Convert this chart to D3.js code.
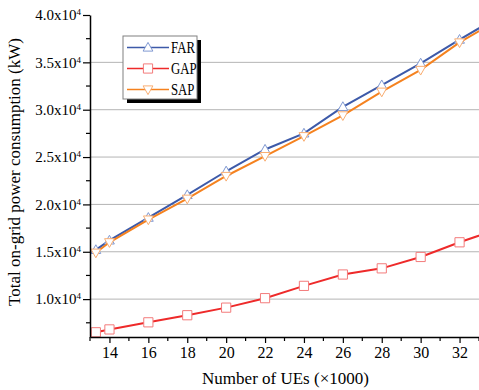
<!DOCTYPE html>
<html>
<head>
<meta charset="utf-8">
<script src="https://cdn.jsdelivr.net/npm/d3@7"></script>
<style>
  body { margin: 0; background: #fff; }
  svg { display: block; font-family: "Liberation Serif", "Times New Roman", serif; }
</style>
</head>
<body>
<script>
// Chart size and margins
const w = 479;
const h = 390;
const marginTop = 15;
const marginRight = 0;
const marginBottom = 53;
const marginLeft = 90;

// Data (UEs in thousands, power in kW)
const ues = [13.3, 14, 16, 18, 20, 22, 24, 26, 28, 30, 32, 34];
const far = [15200, 16200, 18600, 21000, 23500, 25800, 27500, 30300, 32600, 34900, 37400, 39800];
const gap = [6500, 6800, 7550, 8300, 9100, 10100, 11400, 12600, 13250, 14450, 16000, 17400];
const sap = [14900, 16000, 18400, 20600, 23000, 25100, 27200, 29400, 31900, 34200, 37100, 39500];

const xTicks = [14, 16, 18, 20, 22, 24, 26, 28, 30, 32];
const xMinor = [13, 15, 17, 19, 21, 23, 25, 27, 29, 31, 33];
const yTicks = [10000, 15000, 20000, 25000, 30000, 35000, 40000];
const yMinor = [7500, 12500, 17500, 22500, 27500, 32500, 37500];

const series = [
  { name: "FAR", values: far, line: "#3d5aa9", mark: "#8099d2", shape: "up" },
  { name: "GAP", values: gap, line: "#ee2a2a", mark: "#f37b7b", shape: "square" },
  { name: "SAP", values: sap, line: "#f5821f", mark: "#f9ae73", shape: "down" }
];

const xScale = d3.scaleLinear().domain([13, 33]).range([marginLeft, w - marginRight]);
const yScale = d3.scaleLinear().domain([6000, 40000]).range([h - marginBottom, marginTop]);

const svg = d3.select("body").append("svg").attr("width", w).attr("height", h);

svg.append("defs").append("clipPath").attr("id", "plot-clip")
  .append("rect")
  .attr("x", marginLeft)
  .attr("y", 0)
  .attr("width", w - marginLeft - marginRight)
  .attr("height", h - marginBottom);

// horizontal grid
svg.append("g")
  .selectAll("line")
  .data(yTicks.filter((d) => d < 40000))
  .join("line")
  .attr("x1", marginLeft)
  .attr("x2", w - marginRight)
  .attr("y1", (d) => yScale(d))
  .attr("y2", (d) => yScale(d))
  .attr("stroke", "#b4b4b4")
  .attr("stroke-width", 1);

function markerPath(shape) {
  const s = 4.6;
  if (shape === "up") return `M0,${-s - 0.5}L${s + 0.3},${s - 1}L${-s - 0.3},${s - 1}Z`;
  if (shape === "down") return `M0,${s + 0.5}L${s + 0.3},${-s + 1}L${-s - 0.3},${-s + 1}Z`;
  return `M${-s},${-s}H${s}V${s}H${-s}Z`;
}

const plot = svg.append("g").attr("clip-path", "url(#plot-clip)");
const line = d3.line().x((d, i) => xScale(ues[i])).y((d) => yScale(d));

series.forEach((s) => {
  const g = plot.append("g");
  g.append("path")
    .attr("d", line(s.values))
    .attr("fill", "none")
    .attr("stroke", s.line)
    .attr("stroke-width", 2);
  g.selectAll("path.mk")
    .data(s.values)
    .join("path")
    .attr("class", "mk")
    .attr("transform", (d, i) => `translate(${xScale(ues[i])},${yScale(d)})`)
    .attr("d", markerPath(s.shape))
    .attr("fill", "#fff")
    .attr("stroke", s.mark)
    .attr("stroke-width", 1);
});

// Add the x-axis.
svg.append("g")
  .attr("transform", `translate(0,${h - marginBottom})`)
  .call(d3.axisBottom(xScale).tickValues(xTicks).tickSize(6).tickPadding(4).tickSizeOuter(0))
  .call((g) => g.select(".domain").attr("stroke-width", 1.5))
  .call((g) => g.selectAll(".tick line").attr("stroke-width", 1.2))
  .call((g) => g.selectAll(".tick text").attr("font-size", "16px").attr("font-family", "Liberation Serif"))
  .call((g) =>
    g.selectAll(".minor")
      .data(xMinor)
      .join("line")
      .attr("class", "minor")
      .attr("x1", (d) => xScale(d))
      .attr("x2", (d) => xScale(d))
      .attr("y1", 0)
      .attr("y2", 4)
      .attr("stroke", "#000")
      .attr("stroke-width", 1.2)
  );

// Add the y-axis.
svg.append("g")
  .attr("transform", `translate(${marginLeft},0)`)
  .call(d3.axisLeft(yScale).tickValues(yTicks).tickSize(7).tickPadding(2).tickSizeOuter(0))
  .call((g) => g.select(".domain").attr("stroke-width", 1.5))
  .call((g) => g.selectAll(".tick line").attr("stroke-width", 1.2))
  .call((g) =>
    g.selectAll(".tick text")
      .attr("font-size", "15px")
      .attr("font-family", "Liberation Serif")
      .text(null)
      .call((t) => t.append("tspan").text((d) => (d / 10000).toFixed(1) + "x10"))
      .call((t) =>
        t.append("tspan")
          .attr("font-size", "9px")
          .attr("dy", "-0.55em")
          .text("4")
      )
  )
  .call((g) =>
    g.selectAll(".minor")
      .data(yMinor)
      .join("line")
      .attr("class", "minor")
      .attr("x1", -4)
      .attr("x2", 0)
      .attr("y1", (d) => yScale(d))
      .attr("y2", (d) => yScale(d))
      .attr("stroke", "#000")
      .attr("stroke-width", 1.2)
  );

// axis titles
svg.append("text")
  .attr("x", (marginLeft + w - marginRight) / 2 + 1)
  .attr("y", 384)
  .attr("text-anchor", "middle")
  .attr("font-size", "17px")
  .text("Number of UEs (\u00d71000)");

svg.append("text")
  .attr("transform", `translate(20,${(marginTop + h - marginBottom) / 2 - 4}) rotate(-90)`)
  .attr("text-anchor", "middle")
  .attr("font-size", "17px")
  .text("Total on-grid power consumption (kW)");

// legend with drop shadow
const legend = svg.append("g").attr("transform", "translate(123,36)");
legend.append("rect")
  .attr("x", 4).attr("y", 4).attr("width", 74).attr("height", 63)
  .attr("fill", "#000");
legend.append("rect")
  .attr("x", 0).attr("y", 0).attr("width", 74).attr("height", 63)
  .attr("fill", "#fff").attr("stroke", "#808080").attr("stroke-width", 1);

series.forEach((s, i) => {
  const yy = 11.5 + i * 21;
  legend.append("line")
    .attr("x1", 4).attr("x2", 46)
    .attr("y1", yy).attr("y2", yy)
    .attr("stroke", s.line).attr("stroke-width", 1.5);
  legend.append("path")
    .attr("transform", `translate(25,${yy})`)
    .attr("d", markerPath(s.shape))
    .attr("fill", "#fff")
    .attr("stroke", s.mark);
  // the legend labels in the reference are narrow, so squeeze them horizontally
  legend.append("text")
    .attr("transform", `translate(48,${yy + 5.5}) scale(0.8,1)`)
    .attr("font-size", "16px")
    .text(s.name);
});
</script>
</body>
</html>
